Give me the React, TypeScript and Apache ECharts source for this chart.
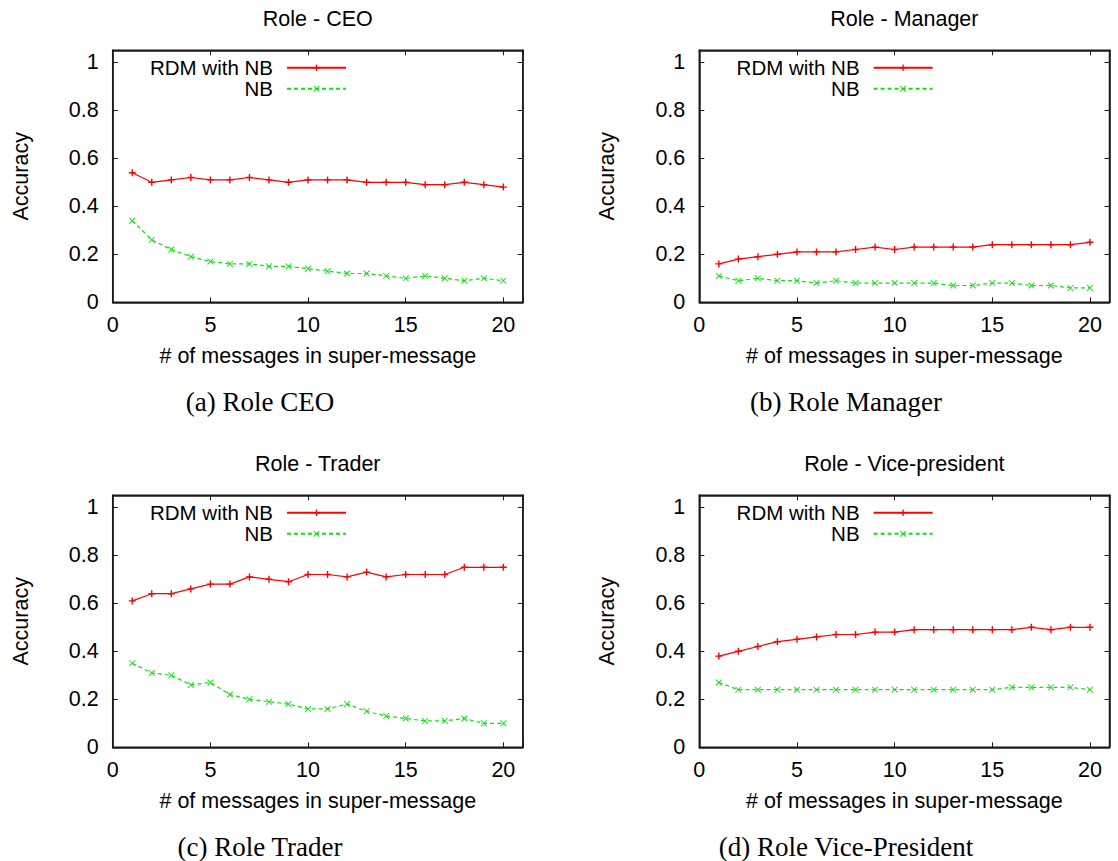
import React, { useEffect, useRef } from "react";
import * as echarts from "echarts";

// ---- data ----
const messageCounts = [1, 2, 3, 4, 5, 6, 7, 8, 9, 10, 11, 12, 13, 14, 15, 16, 17, 18, 19, 20];

const ceoRdm = [0.54, 0.5, 0.51, 0.52, 0.51, 0.51, 0.52, 0.51, 0.5, 0.51, 0.51, 0.51, 0.5, 0.5, 0.5, 0.49, 0.49, 0.5, 0.49, 0.48];
const ceoNb = [0.34, 0.26, 0.22, 0.19, 0.17, 0.16, 0.16, 0.15, 0.15, 0.14, 0.13, 0.12, 0.12, 0.11, 0.1, 0.11, 0.1, 0.09, 0.1, 0.09];

const managerRdm = [0.16, 0.18, 0.19, 0.2, 0.21, 0.21, 0.21, 0.22, 0.23, 0.22, 0.23, 0.23, 0.23, 0.23, 0.24, 0.24, 0.24, 0.24, 0.24, 0.25];
const managerNb = [0.11, 0.09, 0.1, 0.09, 0.09, 0.08, 0.09, 0.08, 0.08, 0.08, 0.08, 0.08, 0.07, 0.07, 0.08, 0.08, 0.07, 0.07, 0.06, 0.06];

const traderRdm = [0.61, 0.64, 0.64, 0.66, 0.68, 0.68, 0.71, 0.7, 0.69, 0.72, 0.72, 0.71, 0.73, 0.71, 0.72, 0.72, 0.72, 0.75, 0.75, 0.75];
const traderNb = [0.35, 0.31, 0.3, 0.26, 0.27, 0.22, 0.2, 0.19, 0.18, 0.16, 0.16, 0.18, 0.15, 0.13, 0.12, 0.11, 0.11, 0.12, 0.1, 0.1];

const vpRdm = [0.38, 0.4, 0.42, 0.44, 0.45, 0.46, 0.47, 0.47, 0.48, 0.48, 0.49, 0.49, 0.49, 0.49, 0.49, 0.49, 0.5, 0.49, 0.5, 0.5];
const vpNb = [0.27, 0.24, 0.24, 0.24, 0.24, 0.24, 0.24, 0.24, 0.24, 0.24, 0.24, 0.24, 0.24, 0.24, 0.24, 0.25, 0.25, 0.25, 0.25, 0.24];

const panelTitles = ["Role - CEO", "Role - Manager", "Role - Trader", "Role - Vice-president"];
const captions = ["(a) Role CEO", "(b) Role Manager", "(c) Role Trader", "(d) Role Vice-President"];
const seriesNames = ["RDM with NB", "NB"];
const xAxisName = "# of messages in super-message";
const yAxisName = "Accuracy";

const panelData = [
  [ceoRdm, ceoNb],
  [managerRdm, managerNb],
  [traderRdm, traderNb],
  [vpRdm, vpNb],
];

// ---- layout / style ----
const W = 1118;
const H = 861;
const SANS = "'Liberation Sans', Arial, Helvetica, sans-serif";
const SERIF = "'Liberation Serif', 'Times New Roman', serif";
const FS = 21.5;
const LEG_FS = 20.5;
const AXIS_COLOR = "#1a1a1a";
const RED = "#ff0000";
const GREEN = "#11e011";
const PLOT_W = 410.2;
const PLOT_H = 252;
const panels = [
  { left: 112.7, top: 50.3, capX: 260 },
  { left: 699.3, top: 50.3, capX: 846 },
  { left: 112.7, top: 495.3, capX: 260 },
  { left: 699.3, top: 495.3, capX: 846 },
];

const PLUS = "path://M4,0H6V4H10V6H6V10H4V6H0V4H4Z";
const CROSS = "path://M1,0L5,4L9,0L10,1L6,5L10,9L9,10L5,6L1,10L0,9L4,5L0,1Z";

function buildOption() {
  const grid: any[] = [];
  const xAxis: any[] = [];
  const yAxis: any[] = [];
  const series: any[] = [];
  const title: any[] = [];
  const legend: any[] = [];
  const graphic: any[] = [];

  const mkLine = () => ({ show: true, onZero: false, lineStyle: { color: AXIS_COLOR, width: 1.5 } });
  const mkTick = () => ({ show: true, inside: true, length: 5, lineStyle: { color: AXIS_COLOR, width: 1 } });

  panels.forEach((p, i) => {
    grid.push({
      left: p.left,
      top: p.top,
      width: PLOT_W,
      height: PLOT_H,
      containLabel: false,
      show: true,
      borderColor: AXIS_COLOR,
      borderWidth: 1.5,
      backgroundColor: "transparent",
    });

    // bottom x
    xAxis.push({
      gridIndex: i,
      type: "value",
      position: "bottom",
      min: 0,
      max: 21,
      interval: 5,
      axisLine: mkLine(),
      axisTick: mkTick(),
      splitLine: { show: false },
      axisLabel: {
        show: true,
        margin: 12,
        color: "#000",
        fontSize: FS,
        fontFamily: SANS,
        formatter: (v: number) => (v > 20.001 ? "" : String(v)),
      },
      name: xAxisName,
      nameLocation: "middle",
      nameGap: 43,
      nameTextStyle: { color: "#000", fontSize: FS, fontFamily: SANS },
    });
    // top mirror x
    xAxis.push({
      gridIndex: i,
      type: "value",
      position: "top",
      min: 0,
      max: 21,
      interval: 5,
      axisLine: mkLine(),
      axisTick: mkTick(),
      splitLine: { show: false },
      axisLabel: { show: false },
    });
    // left y
    yAxis.push({
      gridIndex: i,
      type: "value",
      position: "left",
      min: 0,
      max: 1.05,
      interval: 0.2,
      axisLine: mkLine(),
      axisTick: mkTick(),
      splitLine: { show: false },
      axisLabel: {
        show: true,
        margin: 14,
        color: "#000",
        fontSize: FS,
        fontFamily: SANS,
        formatter: (v: number) => (v > 1.001 ? "" : String(Math.round(v * 10) / 10)),
      },
      name: yAxisName,
      nameLocation: "middle",
      nameGap: 81,
      nameRotate: 90,
      nameTextStyle: { color: "#000", fontSize: FS, fontFamily: SANS },
    });
    // right mirror y
    yAxis.push({
      gridIndex: i,
      type: "value",
      position: "right",
      min: 0,
      max: 1.05,
      interval: 0.2,
      axisLine: mkLine(),
      axisTick: mkTick(),
      splitLine: { show: false },
      axisLabel: { show: false },
    });

    const [rdm, nb] = panelData[i];
    series.push({
      name: seriesNames[0],
      type: "line",
      xAxisIndex: 2 * i,
      yAxisIndex: 2 * i,
      data: messageCounts.map((x, k) => [x, rdm[k]]),
      symbol: PLUS,
      symbolSize: 7,
      showAllSymbol: true,
      lineStyle: { color: RED, width: 1.2, type: "solid" },
      itemStyle: { color: RED },
      emphasis: { disabled: true },
    });
    series.push({
      name: seriesNames[1],
      type: "line",
      xAxisIndex: 2 * i,
      yAxisIndex: 2 * i,
      data: messageCounts.map((x, k) => [x, nb[k]]),
      symbol: CROSS,
      symbolSize: 6.5,
      showAllSymbol: true,
      lineStyle: { color: GREEN, width: 1.2, type: [4, 3] },
      itemStyle: { color: GREEN },
      emphasis: { disabled: true },
    });
    // empty series bound to the mirror axes so they are laid out
    series.push({
      name: "mirror" + i,
      type: "line",
      xAxisIndex: 2 * i + 1,
      yAxisIndex: 2 * i + 1,
      data: [],
      silent: true,
    });

    title.push({
      text: panelTitles[i],
      left: p.left + PLOT_W / 2,
      top: p.top - 42.3,
      textAlign: "center",
      padding: 0,
      textStyle: { color: "#000", fontSize: FS, fontWeight: "normal", fontFamily: SANS },
    });

    const iconRight = p.left + 234.3;
    seriesNames.forEach((nm, r) => {
      const rowCenter = p.top + 16 + r * 21;
      legend.push({
        data: [nm],
        orient: "horizontal",
        align: "right",
        right: W - iconRight,
        top: rowCenter - 9,
        itemWidth: 59,
        itemHeight: 8,
        padding: 0,
        selectedMode: false,
        textStyle: {
          color: "#000",
          fontSize: LEG_FS,
          lineHeight: 18,
          fontFamily: SANS,
          padding: [0, 9, 0, 0],
        },
      });
    });

    graphic.push({
      type: "text",
      x: p.capX,
      y: p.top + PLOT_H + 99.5,
      style: {
        text: captions[i],
        font: `27px ${SERIF}`,
        fill: "#000",
        align: "center",
        verticalAlign: "middle",
        textAlign: "center",
        textVerticalAlign: "middle",
      },
    });
  });

  return {
    animation: false,
    backgroundColor: "#ffffff",
    grid,
    xAxis,
    yAxis,
    series,
    title,
    legend,
    graphic,
  };
}

export default function App() {
  const ref = useRef<HTMLDivElement | null>(null);
  useEffect(() => {
    if (!ref.current) return;
    const chart = echarts.init(ref.current, undefined, { renderer: "svg" });
    chart.setOption(buildOption() as any);
    return () => {
      chart.dispose();
    };
  }, []);
  return (
    <div
      ref={ref}
      style={{ position: "fixed", left: 0, top: 0, width: W, height: H, background: "#fff" }}
    />
  );
}
